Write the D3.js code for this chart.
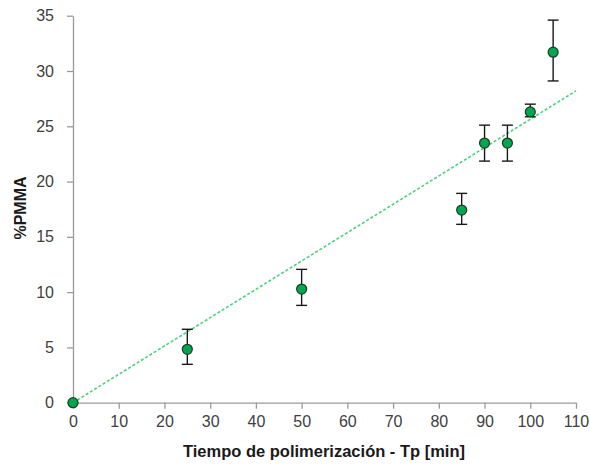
<!DOCTYPE html>
<html><head><meta charset="utf-8">
<script src="https://cdn.jsdelivr.net/npm/d3@7"></script>
<style>body{margin:0;background:#fff}svg{display:block}</style>
</head><body>
<script>
const times = [0, 25, 50, 85, 90, 95, 100, 105];
const pmma = [0, 4.83, 10.28, 17.42, 23.48, 23.48, 26.3, 31.7];
const errLow = [0, 3.47, 8.8, 16.13, 21.85, 21.85, 25.86, 29.1];
const errHigh = [0, 6.64, 12.06, 18.93, 25.1, 25.1, 27.0, 34.6];
const trendX = [0, 110];
const trendY = [0, 28.2];
const xTicks = [0,10,20,30,40,50,60,70,80,90,100,110];
const yTicks = [0,5,10,15,20,25,30,35];

const W = 590, H = 468;
const svg = d3.select("body").append("svg").attr("width", W).attr("height", H);
const x = d3.scaleLinear().domain([0,110]).range([73, 576]);
const y = d3.scaleLinear().domain([0,35]).range([402.7, 15.7]);
const font = "'Liberation Sans Narrow','Arial Narrow','Liberation Sans',Arial,sans-serif";

const xAxis = svg.append("g").attr("transform","translate(0,402.7)")
  .call(d3.axisBottom(x).tickValues(xTicks).tickSize(6).tickPadding(7).tickSizeOuter(0));
const yAxis = svg.append("g").attr("transform","translate(73,0)")
  .call(d3.axisLeft(y).tickValues(yTicks).tickSize(6).tickPadding(13).tickSizeOuter(0));
[xAxis,yAxis].forEach(g=>{
  g.select(".domain").attr("stroke","#9a9a9a").attr("stroke-width",1.3);
  g.selectAll(".tick line").attr("stroke","#9a9a9a").attr("stroke-width",1.3);
  g.selectAll(".tick text").attr("fill","#404040").style("font-family",font).style("font-size","16px");
});

// trendline
svg.append("line")
  .attr("x1", x(trendX[0])).attr("y1", y(trendY[0]))
  .attr("x2", x(trendX[1])).attr("y2", y(trendY[1]))
  .attr("stroke","#4dd07f").attr("stroke-width",1.6).attr("stroke-dasharray","3,2");

const data = times.map((t,i)=>({t, v:pmma[i], lo:errLow[i], hi:errHigh[i]}));
const eb = svg.append("g").attr("stroke","#1a1a1a").attr("stroke-width",1.4);
data.filter(d=>d.hi>d.lo).forEach(d=>{
  eb.append("line").attr("x1",x(d.t)).attr("x2",x(d.t)).attr("y1",y(d.lo)).attr("y2",y(d.hi));
  eb.append("line").attr("x1",x(d.t)-5.5).attr("x2",x(d.t)+5.5).attr("y1",y(d.lo)).attr("y2",y(d.lo));
  eb.append("line").attr("x1",x(d.t)-5.5).attr("x2",x(d.t)+5.5).attr("y1",y(d.hi)).attr("y2",y(d.hi));
});
svg.append("g").selectAll("circle").data(data).join("circle")
  .attr("cx",d=>x(d.t)).attr("cy",d=>y(d.v)).attr("r",5)
  .attr("fill","#00a650").attr("stroke","#1f3b22").attr("stroke-width",1.2);

svg.append("text").attr("x",324).attr("y",457).attr("text-anchor","middle")
  .style("font-family",font).style("font-weight","bold").style("font-size","16.5px").attr("fill","#1a1a1a")
  .text("Tiempo de polimerización - Tp [min]");
svg.append("text").attr("transform","translate(26,208) rotate(-90)").attr("text-anchor","middle")
  .style("font-family",font).style("font-weight","bold").style("font-size","16px").attr("fill","#1a1a1a")
  .text("%PMMA");
</script>
</body></html>
